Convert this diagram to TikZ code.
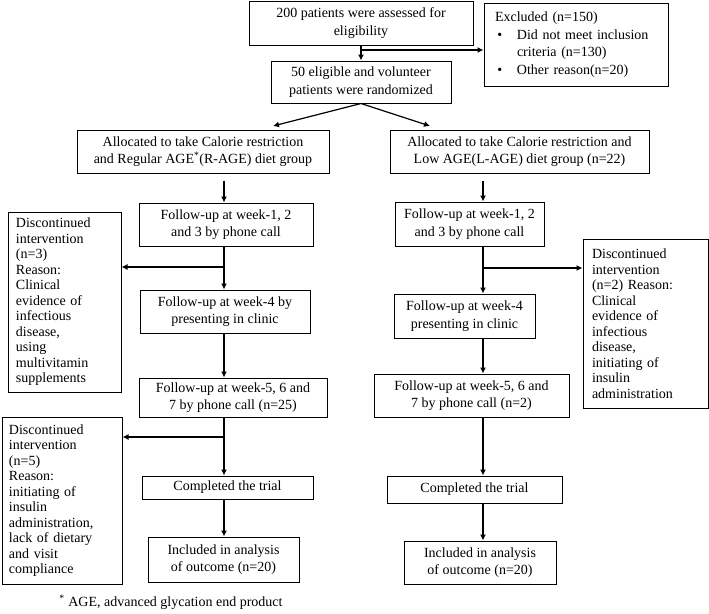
\documentclass[tikz,border=0pt]{standalone}
\usepackage{fontspec}
\setmainfont{Liberation Serif}
\usetikzlibrary{positioning,arrows.meta,calc}
\newcommand{\mainfs}{\fontsize{14}{17.5}\selectfont}
\newcommand{\discfs}{\fontsize{14}{15.5}\selectfont}

\begin{document}
\begin{tikzpicture}[x=1pt,y=-1pt,->,>={Latex[length=6pt,width=6pt]},line width=1.2pt,
  box/.style={draw,line width=1pt,align=center,inner sep=2pt,font=\mainfs},
  dbox/.style={box,align=left,font=\discfs}]
	\useasboundingbox (0,0) rectangle (709,613);
	% screening
	\node[box,minimum width=224,minimum height=44] (assess) at (361,23) {200 patients were assessed for\\eligibility};
	\node[box,align=left,text width=162,minimum width=184,minimum height=83] (excl) at (576,44.5)
	  {Excluded (n=150)\\
	   \makebox[22pt][l]{\,\textbullet}Did not meet inclusion\\
	   \hspace*{22pt}criteria (n=130)\\
	   \makebox[22pt][l]{\,\textbullet}Other reason(n=20)};
	\node[box,minimum width=180,minimum height=42] (rand) at (361,82) {50 eligible and volunteer\\patients were randomized};
	% allocation
	\node[box,minimum width=252,minimum height=43] (allocR) at (203,151.5) {Allocated to take Calorie restriction\\and Regular AGE\textsuperscript{*}(R-AGE) diet group};
	\node[box,minimum width=259,minimum height=43] (allocL) at (519.5,151.5) {Allocated to take Calorie restriction and\\Low AGE(L-AGE) diet group (n=22)};
	\coordinate (tipR) at (273,126);
	\coordinate (tipL) at (430,126);
	\coordinate (colR) at (224,0);
	\coordinate (colL) at (483,0);
	% R-AGE group
	\node[box,minimum width=174,minimum height=43] (fuR1) at (226,224.5) {Follow-up at week-1, 2\\and 3 by phone call};
	\node[dbox,text width=97,minimum width=113,minimum height=180] (discR1) at (64.5,302)
	  {Discontinued\\intervention\\(n=3)\\Reason:\\Clinical\\evidence of\\infectious\\disease,\\using\\multivitamin\\supplements};
	\node[box,minimum width=170,minimum height=43] (fuR2) at (225,311.5) {Follow-up at week-4 by\\presenting in clinic};
	\node[box,minimum width=188,minimum height=39] (fuR3) at (233,397.5) {Follow-up at week-5, 6 and\\7 by phone call (n=25)};
	\node[dbox,text width=106,minimum width=120,minimum height=167] (discR2) at (62,500.5)
	  {Discontinued\\intervention\\(n=5)\\Reason:\\initiating of\\insulin\\administration,\\lack of dietary\\and visit\\compliance};
	\node[box,minimum width=171,minimum height=23] (doneR) at (227.5,487.5) {Completed the trial};
	\node[box,minimum width=151,minimum height=45] (inclR) at (223.5,559.5) {Included in analysis\\of outcome (n=20)};
	% L-AGE group
	\node[box,minimum width=149,minimum height=44] (fuL1) at (469.5,224) {Follow-up at week-1, 2\\and 3 by phone call};
	\node[dbox,text width=107,minimum width=125,minimum height=169] (discL) at (645.5,323.5)
	  {Discontinued\\intervention\\(n=2) Reason:\\Clinical\\evidence of\\infectious\\disease,\\initiating of\\insulin\\administration};
	\node[box,minimum width=141,minimum height=44] (fuL2) at (464.5,316) {Follow-up at week-4\\presenting in clinic};
	\node[box,minimum width=195,minimum height=43] (fuL3) at (471.5,395.5) {Follow-up at week-5, 6 and\\7 by phone call (n=2)};
	\node[box,minimum width=175,minimum height=27] (doneL) at (474.5,489.5) {Completed the trial};
	\node[box,minimum width=152,minimum height=43] (inclL) at (480,562.5) {Included in analysis\\of outcome (n=20)};
	\node[font=\mainfs] (note) at (171,602) {\textsuperscript{*} AGE, advanced glycation end product};
	% connectors
	\coordinate (brA) at (361,50);
	\draw (assess.south) -- (rand.north);
	\draw (brA) -- (brA -| excl.west);
	\draw (rand.south) -- (tipR);
	\draw (rand.south) -- (tipL);
	\coordinate (brR1) at (224,267);
	\coordinate (brR2) at (224,437);
	\draw[shorten <=7pt] (allocR.south -| colR) -- (fuR1.north -| colR);
	\draw (fuR1.south -| colR) -- (fuR2.north -| colR);
	\draw (brR1) -- (brR1 -| discR1.east);
	\draw (fuR2.south -| colR) -- (fuR3.north -| colR);
	\draw (fuR3.south -| colR) -- (doneR.north -| colR);
	\draw (brR2) -- (brR2 -| discR2.east);
	\draw (doneR.south -| colR) -- (inclR.north -| colR);
	\coordinate (brL) at (483,268);
	\draw[shorten <=7pt] (allocL.south -| colL) -- (fuL1.north -| colL);
	\draw (fuL1.south -| colL) -- (fuL2.north -| colL);
	\draw (brL) -- (brL -| discL.west);
	\draw (fuL2.south -| colL) -- (fuL3.north -| colL);
	\draw (fuL3.south -| colL) -- (doneL.north -| colL);
	\draw (doneL.south -| colL) -- (inclL.north -| colL);
\end{tikzpicture}
\end{document}
